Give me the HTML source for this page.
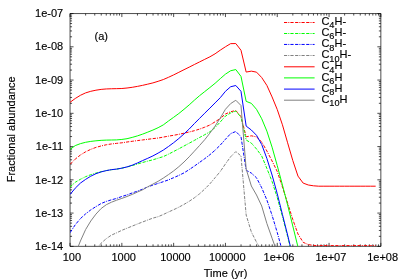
<!DOCTYPE html>
<html><head><meta charset="utf-8"><title>plot</title>
<style>
html,body{margin:0;padding:0;background:#fff;}
body{width:400px;height:280px;overflow:hidden;position:relative;font-family:"Liberation Sans",sans-serif;}
svg text{font-family:"Liberation Sans",sans-serif;fill:#000;stroke:#000;stroke-width:0.15px;}
</style></head><body>
<svg width="400" height="280" viewBox="0 0 400 280" style="position:absolute;left:0;top:0;will-change:transform">
<defs><clipPath id="c"><rect x="70.05" y="13.55" width="310.80" height="232.80"/></clipPath></defs>
<path d="M70.05,13.55 H380.85 V246.35 H70.05 Z M70.05,246.35 v-3.5 M70.05,13.55 v3.5 M85.64,246.35 v-2.0 M85.64,13.55 v2.0 M94.76,246.35 v-2.0 M94.76,13.55 v2.0 M101.24,246.35 v-2.0 M101.24,13.55 v2.0 M106.26,246.35 v-2.0 M106.26,13.55 v2.0 M110.36,246.35 v-2.0 M110.36,13.55 v2.0 M113.83,246.35 v-2.0 M113.83,13.55 v2.0 M116.83,246.35 v-2.0 M116.83,13.55 v2.0 M119.48,246.35 v-2.0 M119.48,13.55 v2.0 M121.85,246.35 v-3.5 M121.85,13.55 v3.5 M137.44,246.35 v-2.0 M137.44,13.55 v2.0 M146.56,246.35 v-2.0 M146.56,13.55 v2.0 M153.04,246.35 v-2.0 M153.04,13.55 v2.0 M158.06,246.35 v-2.0 M158.06,13.55 v2.0 M162.16,246.35 v-2.0 M162.16,13.55 v2.0 M165.63,246.35 v-2.0 M165.63,13.55 v2.0 M168.63,246.35 v-2.0 M168.63,13.55 v2.0 M171.28,246.35 v-2.0 M171.28,13.55 v2.0 M173.65,246.35 v-3.5 M173.65,13.55 v3.5 M189.24,246.35 v-2.0 M189.24,13.55 v2.0 M198.36,246.35 v-2.0 M198.36,13.55 v2.0 M204.84,246.35 v-2.0 M204.84,13.55 v2.0 M209.86,246.35 v-2.0 M209.86,13.55 v2.0 M213.96,246.35 v-2.0 M213.96,13.55 v2.0 M217.43,246.35 v-2.0 M217.43,13.55 v2.0 M220.43,246.35 v-2.0 M220.43,13.55 v2.0 M223.08,246.35 v-2.0 M223.08,13.55 v2.0 M225.45,246.35 v-3.5 M225.45,13.55 v3.5 M241.04,246.35 v-2.0 M241.04,13.55 v2.0 M250.16,246.35 v-2.0 M250.16,13.55 v2.0 M256.64,246.35 v-2.0 M256.64,13.55 v2.0 M261.66,246.35 v-2.0 M261.66,13.55 v2.0 M265.76,246.35 v-2.0 M265.76,13.55 v2.0 M269.23,246.35 v-2.0 M269.23,13.55 v2.0 M272.23,246.35 v-2.0 M272.23,13.55 v2.0 M274.88,246.35 v-2.0 M274.88,13.55 v2.0 M277.25,246.35 v-3.5 M277.25,13.55 v3.5 M292.84,246.35 v-2.0 M292.84,13.55 v2.0 M301.96,246.35 v-2.0 M301.96,13.55 v2.0 M308.44,246.35 v-2.0 M308.44,13.55 v2.0 M313.46,246.35 v-2.0 M313.46,13.55 v2.0 M317.56,246.35 v-2.0 M317.56,13.55 v2.0 M321.03,246.35 v-2.0 M321.03,13.55 v2.0 M324.03,246.35 v-2.0 M324.03,13.55 v2.0 M326.68,246.35 v-2.0 M326.68,13.55 v2.0 M329.05,246.35 v-3.5 M329.05,13.55 v3.5 M344.64,246.35 v-2.0 M344.64,13.55 v2.0 M353.76,246.35 v-2.0 M353.76,13.55 v2.0 M360.24,246.35 v-2.0 M360.24,13.55 v2.0 M365.26,246.35 v-2.0 M365.26,13.55 v2.0 M369.36,246.35 v-2.0 M369.36,13.55 v2.0 M372.83,246.35 v-2.0 M372.83,13.55 v2.0 M375.83,246.35 v-2.0 M375.83,13.55 v2.0 M378.48,246.35 v-2.0 M378.48,13.55 v2.0 M380.85,246.35 v-3.5 M380.85,13.55 v3.5 M70.05,246.35 h3.5 M380.85,246.35 h-3.5 M70.05,236.34 h2.0 M380.85,236.34 h-2.0 M70.05,230.48 h2.0 M380.85,230.48 h-2.0 M70.05,226.33 h2.0 M380.85,226.33 h-2.0 M70.05,223.10 h2.0 M380.85,223.10 h-2.0 M70.05,220.47 h2.0 M380.85,220.47 h-2.0 M70.05,218.24 h2.0 M380.85,218.24 h-2.0 M70.05,216.32 h2.0 M380.85,216.32 h-2.0 M70.05,214.61 h2.0 M380.85,214.61 h-2.0 M70.05,213.09 h3.5 M380.85,213.09 h-3.5 M70.05,203.08 h2.0 M380.85,203.08 h-2.0 M70.05,197.23 h2.0 M380.85,197.23 h-2.0 M70.05,193.07 h2.0 M380.85,193.07 h-2.0 M70.05,189.85 h2.0 M380.85,189.85 h-2.0 M70.05,187.21 h2.0 M380.85,187.21 h-2.0 M70.05,184.99 h2.0 M380.85,184.99 h-2.0 M70.05,183.06 h2.0 M380.85,183.06 h-2.0 M70.05,181.36 h2.0 M380.85,181.36 h-2.0 M70.05,179.84 h3.5 M380.85,179.84 h-3.5 M70.05,169.82 h2.0 M380.85,169.82 h-2.0 M70.05,163.97 h2.0 M380.85,163.97 h-2.0 M70.05,159.81 h2.0 M380.85,159.81 h-2.0 M70.05,156.59 h2.0 M380.85,156.59 h-2.0 M70.05,153.96 h2.0 M380.85,153.96 h-2.0 M70.05,151.73 h2.0 M380.85,151.73 h-2.0 M70.05,149.80 h2.0 M380.85,149.80 h-2.0 M70.05,148.10 h2.0 M380.85,148.10 h-2.0 M70.05,146.58 h3.5 M380.85,146.58 h-3.5 M70.05,136.57 h2.0 M380.85,136.57 h-2.0 M70.05,130.71 h2.0 M380.85,130.71 h-2.0 M70.05,126.56 h2.0 M380.85,126.56 h-2.0 M70.05,123.33 h2.0 M380.85,123.33 h-2.0 M70.05,120.70 h2.0 M380.85,120.70 h-2.0 M70.05,118.47 h2.0 M380.85,118.47 h-2.0 M70.05,116.54 h2.0 M380.85,116.54 h-2.0 M70.05,114.84 h2.0 M380.85,114.84 h-2.0 M70.05,113.32 h3.5 M380.85,113.32 h-3.5 M70.05,103.31 h2.0 M380.85,103.31 h-2.0 M70.05,97.45 h2.0 M380.85,97.45 h-2.0 M70.05,93.30 h2.0 M380.85,93.30 h-2.0 M70.05,90.08 h2.0 M380.85,90.08 h-2.0 M70.05,87.44 h2.0 M380.85,87.44 h-2.0 M70.05,85.22 h2.0 M380.85,85.22 h-2.0 M70.05,83.29 h2.0 M380.85,83.29 h-2.0 M70.05,81.59 h2.0 M380.85,81.59 h-2.0 M70.05,80.06 h3.5 M380.85,80.06 h-3.5 M70.05,70.05 h2.0 M380.85,70.05 h-2.0 M70.05,64.20 h2.0 M380.85,64.20 h-2.0 M70.05,60.04 h2.0 M380.85,60.04 h-2.0 M70.05,56.82 h2.0 M380.85,56.82 h-2.0 M70.05,54.19 h2.0 M380.85,54.19 h-2.0 M70.05,51.96 h2.0 M380.85,51.96 h-2.0 M70.05,50.03 h2.0 M380.85,50.03 h-2.0 M70.05,48.33 h2.0 M380.85,48.33 h-2.0 M70.05,46.81 h3.5 M380.85,46.81 h-3.5 M70.05,36.80 h2.0 M380.85,36.80 h-2.0 M70.05,30.94 h2.0 M380.85,30.94 h-2.0 M70.05,26.78 h2.0 M380.85,26.78 h-2.0 M70.05,23.56 h2.0 M380.85,23.56 h-2.0 M70.05,20.93 h2.0 M380.85,20.93 h-2.0 M70.05,18.70 h2.0 M380.85,18.70 h-2.0 M70.05,16.77 h2.0 M380.85,16.77 h-2.0 M70.05,15.07 h2.0 M380.85,15.07 h-2.0 M70.05,13.55 h3.5 M380.85,13.55 h-3.5" fill="none" stroke="#000" stroke-width="0.7"/>
<g fill="none" stroke-linejoin="round" clip-path="url(#c)">
<path d="M70.05,164.30 L75.23,159.10 L80.41,155.00 L85.59,151.80 L90.77,149.35 L95.95,147.40 L101.13,145.95 L106.31,144.75 L111.49,143.95 L116.67,143.35 L121.85,142.80 L127.03,142.00 L132.21,141.30 L137.39,140.60 L142.57,139.95 L147.75,139.30 L152.93,138.60 L158.11,138.05 L163.29,137.10 L168.47,136.15 L173.65,135.30 L178.83,134.30 L184.01,133.20 L189.19,132.00 L194.37,130.70 L199.55,129.10 L204.73,127.20 L209.91,125.00 L215.09,121.80 L220.27,118.50 L225.45,114.00 L230.63,111.75 L235.81,110.50 L240.99,116.50 L246.17,136.80 L251.35,135.80 L256.53,136.90 L261.71,142.00 L266.89,151.00 L272.07,161.00 L277.25,171.50 L282.43,187.00 L287.61,203.00 L292.79,219.50 L297.97,234.00 L303.15,242.30 L308.33,244.60 L313.51,245.40 L318.69,245.60 L323.87,245.60 L329.05,245.60 L334.23,245.60 L339.41,245.60 L344.59,245.60 L349.77,245.60 L354.95,245.60 L360.13,245.60 L365.31,245.60 L370.49,245.60 L375.67,245.60" stroke="#ff0000" stroke-width="1.0" stroke-dasharray="3.2 1.5 3.2 1.1 1.0 1.1" stroke-dashoffset="4.7"/>
<path d="M70.05,187.00 L75.23,182.30 L80.41,179.30 L85.59,176.70 L90.77,174.70 L95.95,173.10 L101.13,171.70 L106.31,170.60 L111.49,169.70 L116.67,169.10 L121.85,168.20 L127.03,167.00 L132.21,165.60 L137.39,164.00 L142.57,162.50 L147.75,161.10 L152.93,159.80 L158.11,158.20 L163.29,156.60 L168.47,154.20 L173.65,151.50 L178.83,148.80 L184.01,146.00 L189.19,143.20 L194.37,140.40 L199.55,137.50 L204.73,134.70 L209.91,131.80 L215.09,127.50 L220.27,122.00 L225.45,116.10 L230.63,113.00 L235.81,111.10 L240.99,117.20 L246.17,140.00 L251.35,143.10 L256.53,149.00 L261.71,156.00 L266.89,168.50 L272.07,181.50 L277.25,197.50 L282.43,216.50 L287.61,236.50 L292.79,257.50" stroke="#00ff00" stroke-width="1.0" stroke-dasharray="3.2 1.5 3.2 1.1 1.0 1.1" stroke-dashoffset="4.7"/>
<path d="M70.05,232.70 L75.23,224.80 L80.41,218.60 L85.59,213.90 L90.77,209.90 L95.95,206.60 L101.13,203.50 L106.31,201.40 L111.49,199.80 L116.67,198.40 L121.85,196.50 L127.03,194.90 L132.21,192.95 L137.39,191.15 L142.57,189.20 L147.75,186.90 L152.93,185.10 L158.11,183.40 L163.29,181.70 L168.47,179.90 L173.65,177.70 L178.83,175.40 L184.01,172.90 L189.19,169.60 L194.37,166.10 L199.55,162.40 L204.73,158.70 L209.91,154.70 L215.09,150.20 L220.27,145.10 L225.45,139.30 L230.63,133.60 L235.81,131.50 L240.99,136.70 L246.17,170.30 L251.35,173.10 L256.53,177.80 L261.71,187.80 L266.89,200.00 L272.07,215.30 L277.25,232.50 L282.43,251.50" stroke="#0000ff" stroke-width="1.0" stroke-dasharray="3.2 1.5 3.2 1.1 1.0 1.1" stroke-dashoffset="4.7"/>
<path d="M95.95,249.60 L101.13,243.20 L106.31,238.60 L111.49,235.10 L116.67,232.80 L121.85,230.30 L127.03,228.20 L132.21,226.10 L137.39,224.00 L142.57,222.00 L147.75,220.00 L152.93,218.10 L158.11,216.70 L163.29,214.50 L168.47,212.00 L173.65,209.70 L178.83,207.20 L184.01,204.40 L189.19,201.30 L194.37,197.80 L199.55,193.80 L204.73,189.10 L209.91,183.80 L215.09,177.70 L220.27,171.50 L225.45,163.90 L230.63,156.80 L235.81,151.60 L240.99,155.90 L246.17,215.00 L251.35,232.00 L256.53,242.20 L261.71,250.50" stroke="#808080" stroke-width="1.0" stroke-dasharray="3.2 1.5 3.2 1.1 1.0 1.1" stroke-dashoffset="4.7"/>
<path d="M70.05,102.30 L75.23,98.50 L80.41,95.30 L85.59,92.90 L90.77,91.30 L95.95,90.20 L101.13,89.40 L106.31,88.95 L111.49,88.75 L116.67,88.65 L121.85,88.50 L127.03,88.00 L132.21,87.30 L137.39,86.40 L142.57,85.35 L147.75,84.15 L152.93,82.90 L158.11,81.30 L163.29,79.55 L168.47,77.30 L173.65,74.90 L178.83,72.30 L184.01,69.70 L189.19,67.15 L194.37,64.50 L199.55,61.95 L204.73,59.35 L209.91,56.80 L215.09,53.80 L220.27,50.15 L225.45,46.75 L230.63,43.65 L235.81,43.55 L240.99,50.25 L246.17,72.05 L251.35,71.15 L256.53,72.15 L261.71,77.55 L266.89,85.45 L272.07,96.95 L277.25,109.55 L282.43,124.80 L287.61,142.80 L292.79,160.50 L297.97,176.10 L303.15,183.10 L308.33,185.00 L313.51,185.80 L318.69,186.20 L323.87,186.20 L329.05,186.20 L334.23,186.20 L339.41,186.20 L344.59,186.20 L349.77,186.20 L354.95,186.20 L360.13,186.20 L365.31,186.20 L370.49,186.20 L375.67,186.20" stroke="#ff0000" stroke-width="1.0"/>
<path d="M70.05,149.40 L75.23,145.60 L80.41,143.65 L85.59,142.30 L90.77,141.40 L95.95,140.80 L101.13,140.35 L106.31,140.10 L111.49,140.00 L116.67,139.90 L121.85,139.45 L127.03,138.70 L132.21,137.40 L137.39,135.90 L142.57,134.15 L147.75,132.15 L152.93,130.05 L158.11,127.70 L163.29,124.90 L168.47,121.00 L173.65,117.30 L178.83,113.50 L184.01,109.30 L189.19,104.90 L194.37,100.20 L199.55,95.70 L204.73,91.60 L209.91,87.50 L215.09,83.30 L220.27,78.65 L225.45,74.15 L230.63,70.75 L235.81,69.55 L240.99,76.40 L246.17,101.35 L251.35,103.35 L256.53,109.35 L261.71,118.75 L266.89,131.15 L272.07,147.15 L277.25,165.65 L282.43,185.00 L287.61,205.00 L292.79,226.00 L297.97,247.00 L303.15,268.50" stroke="#00ff00" stroke-width="1.0"/>
<path d="M70.05,194.50 L75.23,188.20 L80.41,183.10 L85.59,179.40 L90.77,176.20 L95.95,173.70 L101.13,171.90 L106.31,170.60 L111.49,169.65 L116.67,169.10 L121.85,168.15 L127.03,166.90 L132.21,165.20 L137.39,163.00 L142.57,160.60 L147.75,158.30 L152.93,155.90 L158.11,153.10 L163.29,150.10 L168.47,146.50 L173.65,142.70 L178.83,138.50 L184.01,133.90 L189.19,129.00 L194.37,123.60 L199.55,118.40 L204.73,113.20 L209.91,108.10 L215.09,102.90 L220.27,97.70 L225.45,91.30 L230.63,86.75 L235.81,85.50 L240.99,91.30 L246.17,126.10 L251.35,130.00 L256.53,135.30 L261.71,144.50 L266.89,158.50 L272.07,175.00 L277.25,193.80 L282.43,214.50 L287.61,235.00 L292.79,256.50" stroke="#0000ff" stroke-width="1.0"/>
<path d="M75.23,254.00 L80.41,241.00 L85.59,229.60 L90.77,221.00 L95.95,214.10 L101.13,208.50 L106.31,204.70 L111.49,202.20 L116.67,200.20 L121.85,198.40 L127.03,196.50 L132.21,194.40 L137.39,192.10 L142.57,189.80 L147.75,186.80 L152.93,184.10 L158.11,181.30 L163.29,178.10 L168.47,174.60 L173.65,170.90 L178.83,166.70 L184.01,162.00 L189.19,156.80 L194.37,151.20 L199.55,145.50 L204.73,139.70 L209.91,133.10 L215.09,126.10 L220.27,118.00 L225.45,109.25 L230.63,103.60 L235.81,100.25 L240.99,105.50 L246.17,169.00 L251.35,186.00 L256.53,195.00 L261.71,206.00 L266.89,223.50 L272.07,238.20 L277.25,252.50" stroke="#808080" stroke-width="1.0"/>
</g>
<path d="M284,22.50 H314.6" stroke="#ff0000" stroke-width="1.0" fill="none" stroke-dasharray="3.2 1.5 3.2 1.1 1.0 1.1" stroke-dashoffset="4.7"/>
<text x="321.4" y="25.00" font-size="11">C<tspan font-size="9.2" dy="3.3">4</tspan><tspan dy="-3.3">H-</tspan></text>
<path d="M284,33.50 H314.6" stroke="#00ff00" stroke-width="1.0" fill="none" stroke-dasharray="3.2 1.5 3.2 1.1 1.0 1.1" stroke-dashoffset="4.7"/>
<text x="321.4" y="36.10" font-size="11">C<tspan font-size="9.2" dy="3.3">6</tspan><tspan dy="-3.3">H-</tspan></text>
<path d="M284,44.45 H314.6" stroke="#0000ff" stroke-width="1.0" fill="none" stroke-dasharray="3.2 1.5 3.2 1.1 1.0 1.1" stroke-dashoffset="4.7"/>
<text x="321.4" y="47.20" font-size="11">C<tspan font-size="9.2" dy="3.3">8</tspan><tspan dy="-3.3">H-</tspan></text>
<path d="M284,55.50 H314.6" stroke="#808080" stroke-width="1.0" fill="none" stroke-dasharray="3.2 1.5 3.2 1.1 1.0 1.1" stroke-dashoffset="4.7"/>
<text x="321.4" y="58.30" font-size="11">C<tspan font-size="9.2" dy="3.3">10</tspan><tspan dy="-3.3">H-</tspan></text>
<path d="M284,66.80 H314.6" stroke="#ff0000" stroke-width="1.0" fill="none"/>
<text x="321.4" y="69.40" font-size="11">C<tspan font-size="9.2" dy="3.3">4</tspan><tspan dy="-3.3">H</tspan></text>
<path d="M284,77.90 H314.6" stroke="#00ff00" stroke-width="1.0" fill="none"/>
<text x="321.4" y="80.50" font-size="11">C<tspan font-size="9.2" dy="3.3">6</tspan><tspan dy="-3.3">H</tspan></text>
<path d="M284,89.10 H314.6" stroke="#0000ff" stroke-width="1.0" fill="none"/>
<text x="321.4" y="91.60" font-size="11">C<tspan font-size="9.2" dy="3.3">8</tspan><tspan dy="-3.3">H</tspan></text>
<path d="M284,100.20 H314.6" stroke="#808080" stroke-width="1.0" fill="none"/>
<text x="321.4" y="102.70" font-size="11">C<tspan font-size="9.2" dy="3.3">10</tspan><tspan dy="-3.3">H</tspan></text>
<text x="63.2" y="250.20" text-anchor="end" font-size="11">1e-14</text>
<text x="63.2" y="216.89" text-anchor="end" font-size="11">1e-13</text>
<text x="63.2" y="183.58" text-anchor="end" font-size="11">1e-12</text>
<text x="63.2" y="150.27" text-anchor="end" font-size="11">1e-11</text>
<text x="63.2" y="116.96" text-anchor="end" font-size="11">1e-10</text>
<text x="63.2" y="83.65" text-anchor="end" font-size="11">1e-09</text>
<text x="63.2" y="50.34" text-anchor="end" font-size="11">1e-08</text>
<text x="63.2" y="17.03" text-anchor="end" font-size="11">1e-07</text>
<text x="71.85" y="261.3" text-anchor="middle" font-size="11">100</text>
<text x="123.65" y="261.3" text-anchor="middle" font-size="11">1000</text>
<text x="175.45" y="261.3" text-anchor="middle" font-size="11">10000</text>
<text x="227.25" y="261.3" text-anchor="middle" font-size="11">100000</text>
<text x="279.05" y="261.3" text-anchor="middle" font-size="11">1e+06</text>
<text x="330.85" y="261.3" text-anchor="middle" font-size="11">1e+07</text>
<text x="382.65" y="261.3" text-anchor="middle" font-size="11">1e+08</text>
<text x="225.6" y="277.2" text-anchor="middle" font-size="11">Time (yr)</text>
<text transform="translate(15,129.4) rotate(-90)" text-anchor="middle" font-size="11">Fractional abundance</text>
<text x="94.5" y="40.3" font-size="11">(a)</text>
</svg>
</body></html>
